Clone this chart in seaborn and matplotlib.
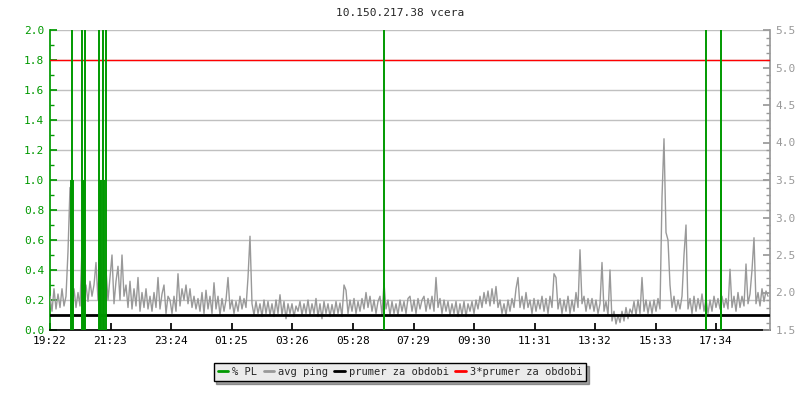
import numpy as np
import pandas as pd
import matplotlib
matplotlib.use("Agg")
import matplotlib.pyplot as plt
import seaborn as sns
from matplotlib.lines import Line2D
from matplotlib.ticker import MultipleLocator

TITLE = "10.150.217.38 vcera"
TIME_LABELS = ["19:22", "21:23", "23:24", "01:25", "03:26", "05:28",
               "07:29", "09:30", "11:31", "13:32", "15:33", "17:34"]
SAMPLE_STEP = 4  # minutes between ping samples
AVG_PING = 1.7   # "prumer za obdobi"

# avg ping [ms], one value every 4 minutes
ping = [
    1.95, 1.75, 2.05, 1.78, 1.98, 1.80, 2.05, 1.82, 1.95, 2.55, 3.40, 1.85, 2.05, 1.80, 2.00,
    1.82, 2.60, 1.90, 2.10, 1.88, 2.15, 1.95, 2.10, 2.40, 1.90, 2.70, 2.05, 2.25, 2.30, 1.90,
    2.20, 2.50, 1.85, 2.15, 2.35, 1.90, 2.50, 1.95, 2.10, 1.80, 2.15, 1.78, 2.05, 1.82, 2.20,
    1.75, 2.00, 1.80, 2.05, 1.78, 1.95, 1.75, 2.00, 1.80, 2.20, 1.78, 1.98, 2.10, 1.72, 1.95,
    1.90, 1.72, 1.95, 1.75, 2.25, 1.82, 2.05, 1.90, 2.10, 1.85, 2.05, 1.80, 1.95, 1.78, 1.92,
    1.75, 2.00, 1.72, 2.03, 1.78, 1.95, 1.72, 2.13, 1.78, 1.95, 1.70, 1.92, 1.75, 1.90, 2.20,
    1.78, 1.90, 1.72, 1.88, 1.75, 1.95, 1.78, 1.92, 1.80, 2.20, 2.75, 1.85, 1.70, 1.88, 1.72,
    1.85, 1.68, 1.90, 1.72, 1.88, 1.70, 1.85, 1.68, 1.90, 1.72, 1.97, 1.70, 1.88, 1.65, 1.85,
    1.72, 1.85, 1.68, 1.82, 1.75, 1.88, 1.70, 1.85, 1.72, 1.90, 1.70, 1.85, 1.72, 1.92, 1.68,
    1.85, 1.65, 1.88, 1.72, 1.85, 1.68, 1.84, 1.70, 1.88, 1.72, 1.86, 1.68, 2.10, 2.03, 1.72,
    1.90, 1.75, 1.92, 1.72, 1.88, 1.75, 1.92, 1.78, 2.00, 1.80, 1.95, 1.75, 1.90, 1.72, 1.88,
    1.95, 1.70, 2.13, 1.78, 1.90, 1.70, 1.88, 1.72, 1.85, 1.70, 1.90, 1.75, 1.88, 1.72, 1.92,
    1.95, 1.75, 1.90, 1.72, 1.92, 1.78, 1.90, 1.95, 1.75, 1.92, 1.78, 1.95, 1.75, 2.20, 1.80,
    1.92, 1.72, 1.90, 1.75, 1.88, 1.70, 1.85, 1.72, 1.88, 1.68, 1.85, 1.70, 1.88, 1.68, 1.85,
    1.75, 1.88, 1.72, 1.90, 1.78, 1.95, 1.80, 2.00, 1.85, 2.02, 1.82, 2.05, 1.85, 2.08, 1.80,
    1.90, 1.72, 1.85, 1.70, 1.90, 1.75, 1.92, 1.80, 2.05, 2.20, 1.80, 1.95, 1.78, 2.00, 1.80,
    1.90, 1.72, 1.92, 1.75, 1.90, 1.78, 1.95, 1.75, 1.92, 1.72, 1.95, 1.80, 2.25, 2.20, 1.78,
    1.92, 1.72, 1.90, 1.75, 1.95, 1.72, 1.90, 1.75, 2.00, 1.80, 2.57, 1.85, 1.95, 1.75, 1.92,
    1.78, 1.92, 1.75, 1.90, 1.72, 1.85, 2.40, 1.75, 1.88, 1.70, 2.30, 1.62, 1.75, 1.58, 1.70,
    1.60, 1.75, 1.62, 1.80, 1.65, 1.78, 1.72, 1.88, 1.70, 1.90, 1.72, 2.20, 1.75, 1.90, 1.72,
    1.88, 1.72, 1.90, 1.75, 1.92, 1.78, 3.27, 4.05, 2.80, 2.70, 2.10, 1.80, 1.95, 1.75, 1.90,
    1.78, 1.95, 2.50, 2.90, 1.78, 1.92, 1.72, 1.95, 1.75, 1.92, 1.78, 1.98, 1.75, 1.92, 1.72,
    1.90, 1.75, 1.95, 1.80, 1.92, 1.78, 1.95, 1.80, 1.92, 1.78, 2.31, 1.80, 1.95, 1.75, 2.00,
    1.80, 1.95, 1.82, 2.38, 1.85, 1.98, 2.30, 2.73, 1.85, 2.00, 1.82, 2.05, 1.88, 2.02, 1.95,
]

# packet loss events: minute since start, % PL
pl_minute = [42, 44, 46, 63, 65, 67, 69, 97, 99, 101, 105, 108, 111, 668, 1311, 1312, 1341, 1342]
pl_value = [1, 3, 1, 3, 1, 1, 3, 3, 1, 1, 3, 1, 3, 3, 1, 3, 1, 3]

GREEN = "#009900"
GREY = "#999999"


def to_minutes(label, start):
    h, m = map(int, label.split(":"))
    sh, sm = map(int, start.split(":"))
    return (h * 60 + m - (sh * 60 + sm)) % 1440


def main():
    sns.set_theme(style="white")
    plt.rcParams["font.family"] = ["DejaVu Sans Mono"]

    df = pd.DataFrame({"minute": np.arange(len(ping)) * SAMPLE_STEP, "ping": ping})

    fig = plt.figure(figsize=(8, 4), dpi=100)
    ax = fig.add_axes([50 / 800, 70 / 400, 720 / 800, 300 / 400])
    ax2 = ax.twinx()

    # left axis: % PL
    ax.set_xlim(0, 1440)
    ax.set_ylim(0, 2)
    ax.set_yticks(np.arange(0, 2.01, 0.2))
    ax.set_yticklabels([f"{v:.1f}" for v in np.arange(0, 2.01, 0.2)])
    ax.yaxis.set_minor_locator(MultipleLocator(0.1))
    ax.grid(axis="y", color="#c0c0c0", lw=1)
    ax.set_axisbelow(True)
    ax.tick_params(axis="y", which="major", direction="in", length=5, colors=GREEN,
                   labelsize=8, pad=4, left=True)
    ax.tick_params(axis="y", which="minor", direction="in", length=3, colors=GREEN, left=True)
    ax.set_xticks([to_minutes(t, TIME_LABELS[0]) for t in TIME_LABELS])
    ax.set_xticklabels(TIME_LABELS)
    ax.tick_params(axis="x", direction="in", length=5, colors="black", labelsize=8,
                   pad=4, bottom=True)
    for s in ["top", "right"]:
        ax.spines[s].set_visible(False)
    ax.spines["left"].set_color(GREEN)
    ax.spines["bottom"].set_color("black")

    # right axis: avg ping
    sns.lineplot(data=df, x="minute", y="ping", ax=ax2, color=GREY, lw=1, zorder=2)
    ax2.axhline(AVG_PING, color="black", lw=2, zorder=3)
    ax2.axhline(3 * AVG_PING, color="#ff0000", lw=1, zorder=3)
    ax2.vlines(pl_minute, 0, pl_value, colors=GREEN, lw=1.4, zorder=4,
               transform=ax.transData)
    ax2.set_xlim(0, 1440)
    ax2.set_ylim(1.5, 5.5)
    ax2.set_yticks(np.arange(1.5, 5.51, 0.5))
    ax2.yaxis.set_minor_locator(MultipleLocator(0.1))
    ax2.tick_params(axis="y", which="major", direction="in", length=5, colors=GREY,
                    labelsize=8, pad=4, right=True)
    ax2.tick_params(axis="y", which="minor", direction="in", length=3, colors=GREY, right=True)
    ax2.set_xlabel("")
    ax2.set_ylabel("")
    for s in ["top", "left", "bottom"]:
        ax2.spines[s].set_visible(False)
    ax2.spines["right"].set_color(GREY)

    fig.text(0.5, 1 - 13 / 400, TITLE, ha="center", va="center", fontsize=8)

    handles = [Line2D([], [], color=c, lw=2) for c in [GREEN, GREY, "black", "#ff0000"]]
    labels = ["% PL", "avg ping", "prumer za obdobi", "3*prumer za obdobi"]
    leg = fig.legend(handles, labels, loc="center", bbox_to_anchor=(0.5, 1 - 372 / 400),
                     ncol=4, frameon=True, fancybox=False, shadow=True, fontsize=7.5,
                     handlelength=1.0, handletextpad=0.4, columnspacing=0.6,
                     borderpad=0.4, facecolor="#ebebeb", edgecolor="black", framealpha=1)
    leg.get_frame().set_linewidth(1)

    fig.savefig("out.png", dpi=100)


if __name__ == "__main__":
    main()
